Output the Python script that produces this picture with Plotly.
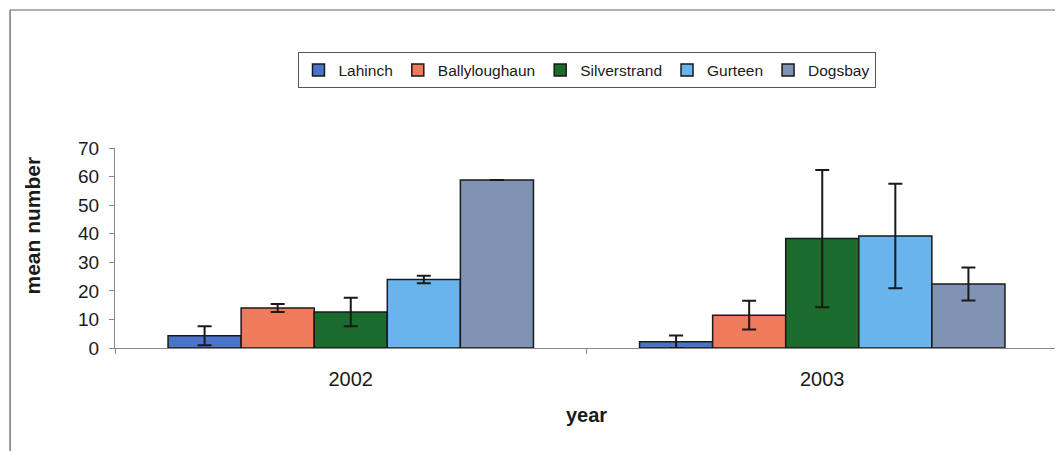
import plotly.graph_objects as go

years = ["2002", "2003"]
sites = ["Lahinch", "Ballyloughaun", "Silverstrand", "Gurteen", "Dogsbay"]
means = {
    "Lahinch": [4.3, 2.2],
    "Ballyloughaun": [14.0, 11.5],
    "Silverstrand": [12.6, 38.3],
    "Gurteen": [24.0, 39.2],
    "Dogsbay": [58.8, 22.4],
}
errors = {
    "Lahinch": [3.3, 2.2],
    "Ballyloughaun": [1.4, 5.0],
    "Silverstrand": [5.0, 24.0],
    "Gurteen": [1.3, 18.3],
    "Dogsbay": [None, 5.8],
}
colors = {
    "Lahinch": "#4a74c8",
    "Ballyloughaun": "#f07a5c",
    "Silverstrand": "#1b6b2c",
    "Gurteen": "#6ab4ee",
    "Dogsbay": "#7f93b4",
}

fig = go.Figure()
for s in sites:
    fig.add_trace(go.Bar(
        name=s, x=years, y=means[s],
        marker=dict(color=colors[s], line=dict(color="#1a1a1a", width=1.5)),
        error_y=dict(type="data", array=errors[s], visible=True,
                     color="#1a1a1a", thickness=2, width=7),
    ))

# page has an 8px body margin, so the figure is offset by 8px
fig.update_layout(
    width=1055, height=443,
    margin=dict(l=107, r=5, t=140, b=103, autoexpand=False),
    paper_bgcolor="white", plot_bgcolor="white",
    barmode="group", bargap=0.225, bargroupgap=0,
    font=dict(family="Liberation Sans, Arial, sans-serif", color="#1a1a1a"),
    showlegend=True,
    legend=dict(orientation="h", x=0.5, xanchor="center", y=1.478, yanchor="top",
                bordercolor="#555555", borderwidth=1, font=dict(size=15.5),
                itemwidth=30, tracegroupgap=0),
    xaxis=dict(showline=True, linecolor="#888888", linewidth=1,
               ticks="outside", tickson="boundaries", ticklen=5, tickcolor="#888888",
               tickfont=dict(size=20), showgrid=False, ticklabelstandoff=13,
               title=dict(text="<b>year</b>", font=dict(size=20), standoff=18)),
    yaxis=dict(range=[0, 70], dtick=10, showline=True, linecolor="#888888", linewidth=1,
               ticks="outside", ticklen=5, tickcolor="#888888", ticklabelstandoff=6,
               tickfont=dict(size=19), showgrid=False, zeroline=False),
    annotations=[
        dict(text="<b>mean number</b>", xref="paper", yref="paper", x=-0.0875, y=0.615,
             textangle=-90, showarrow=False, font=dict(size=21), xanchor="center", yanchor="middle"),
    ],
    shapes=[
        dict(type="line", xref="paper", yref="paper", x0=-0.1113, x1=1.01, y0=1.69, y1=1.69,
             line=dict(color="#999999", width=1.5)),
        dict(type="line", xref="paper", yref="paper", x0=-0.1113, x1=-0.1113, y0=1.69, y1=-0.6,
             line=dict(color="#777777", width=1.5)),
    ],
)

fig.write_html("out.html")
